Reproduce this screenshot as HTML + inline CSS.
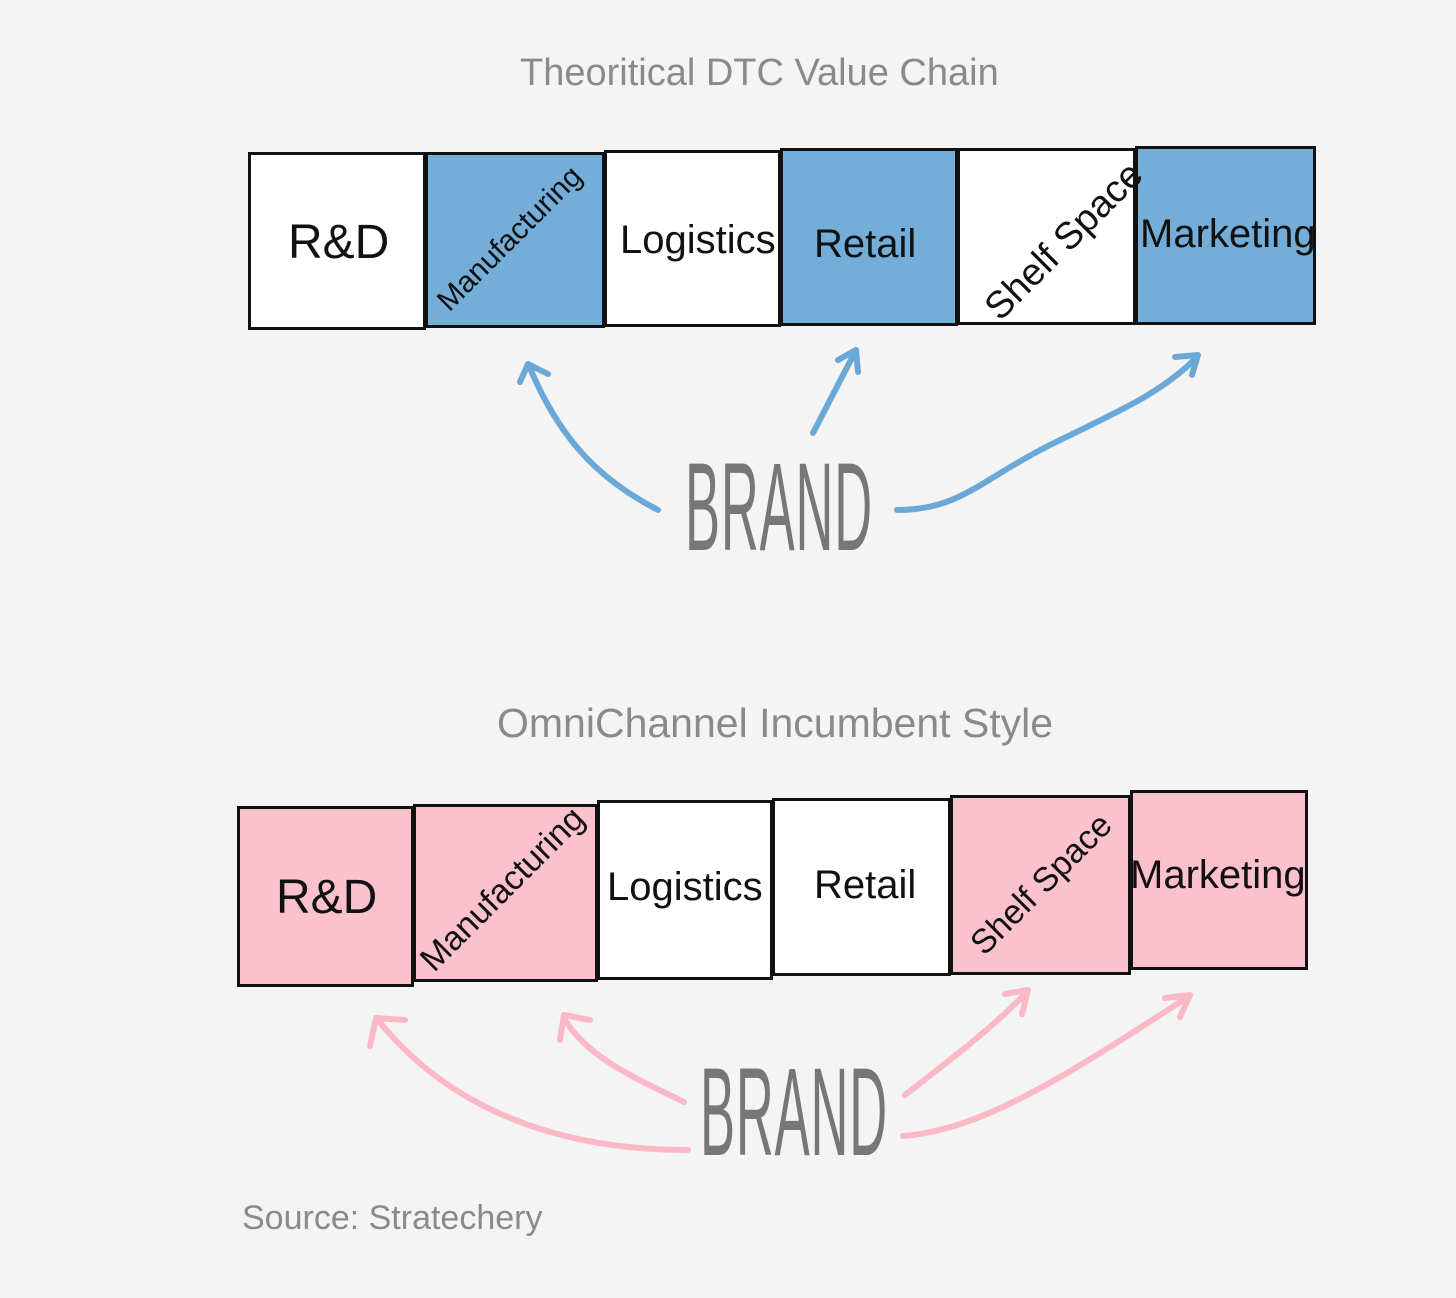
<!DOCTYPE html>
<html><head><meta charset="utf-8"><style>
html,body{margin:0;padding:0;background:#f4f4f4;}
body{width:1456px;height:1298px;position:relative;overflow:hidden;font-family:"Liberation Sans",sans-serif;}
.t{position:absolute;color:#8a8a8a;font-weight:300;white-space:nowrap;}
.b{position:absolute;border:3px solid #111;box-sizing:border-box;background:#fff;}
.l{position:absolute;white-space:nowrap;color:#111;font-size:40px;transform-origin:center;}
.brand{position:absolute;color:#777;font-size:125px;line-height:1.15;transform:scaleX(0.42);transform-origin:left top;letter-spacing:2px;}
</style></head><body>
<div class="t" style="left:520px;top:52px;font-size:38px;">Theoritical DTC Value Chain</div>
<div class="t" style="left:497px;top:700px;font-size:41px;">OmniChannel Incumbent Style</div>
<div class="t" style="left:242px;top:1199px;font-size:34px;">Source: Stratechery</div>

<!-- top row -->
<div class="b" style="left:248px;top:152px;width:178px;height:178px;"></div>
<div class="b" style="left:425px;top:152px;width:180px;height:176px;background:#74aed8;"></div>
<div class="b" style="left:604px;top:150px;width:177px;height:177px;"></div>
<div class="b" style="left:780px;top:148px;width:178px;height:178px;background:#74aed8;"></div>
<div class="b" style="left:957px;top:148px;width:179px;height:177px;"></div>
<div class="b" style="left:1135px;top:146px;width:181px;height:179px;background:#74aed8;"></div>
<div class="l" style="left:288px;top:215px;font-size:48px;">R&amp;D</div>
<div class="l" style="left:415px;top:222px;font-size:30px;transform:rotate(-45deg);">Manufacturing</div>
<div class="l" style="left:620px;top:218px;">Logistics</div>
<div class="l" style="left:814px;top:222px;">Retail</div>
<div class="l" style="left:962px;top:220px;font-size:38px;transform:rotate(-45deg);">Shelf Space</div>
<div class="l" style="left:1140px;top:212px;">Marketing</div>

<!-- bottom row -->
<div class="b" style="left:237px;top:806px;width:177px;height:181px;background:#fbc1cd;"></div>
<div class="b" style="left:413px;top:804px;width:185px;height:178px;background:#fbc1cd;"></div>
<div class="b" style="left:597px;top:800px;width:176px;height:180px;"></div>
<div class="b" style="left:772px;top:798px;width:179px;height:178px;"></div>
<div class="b" style="left:950px;top:795px;width:181px;height:180px;background:#fbc1cd;"></div>
<div class="b" style="left:1130px;top:790px;width:178px;height:180px;background:#fbc1cd;"></div>
<div class="l" style="left:276px;top:870px;font-size:48px;">R&amp;D</div>
<div class="l" style="left:395px;top:870px;font-size:34px;transform:rotate(-45deg);">Manufacturing</div>
<div class="l" style="left:607px;top:865px;">Logistics</div>
<div class="l" style="left:814px;top:863px;">Retail</div>
<div class="l" style="left:950px;top:865px;font-size:34px;transform:rotate(-45deg);">Shelf Space</div>
<div class="l" style="left:1130px;top:853px;">Marketing</div>

<div class="brand" style="left:685px;top:436px;">BRAND</div>
<div class="brand" style="left:700px;top:1041px;">BRAND</div>

<svg width="1456" height="1298" style="position:absolute;left:0;top:0;" fill="none" stroke-linecap="round" stroke-linejoin="round">
<g stroke="#6aa8d8" stroke-width="6">
<path d="M658 510 C600 480 560 440 530 368"/><path d="M520 382 L528 364 L548 374"/>
<path d="M813 433 L855 352"/><path d="M838 360 L856 350 L858 372"/>
<path d="M897 510 C960 510 980 480 1050 445 C1110 415 1160 395 1197 357"/><path d="M1175 357 L1198 355 L1192 375"/>
</g>
<g stroke="#fbb8c6" stroke-width="6">
<path d="M688 1150 C560 1150 450 1110 378 1020"/><path d="M370 1046 L376 1018 L405 1020"/>
<path d="M684 1102 C640 1080 590 1060 565 1020"/><path d="M560 1040 L564 1015 L590 1020"/>
<path d="M905 1095 C950 1060 990 1030 1027 992"/><path d="M1005 994 L1028 990 L1022 1014"/>
<path d="M903 1136 C980 1130 1060 1080 1188 997"/><path d="M1165 998 L1190 995 L1180 1017"/>
</g>
</svg>
</body></html>
